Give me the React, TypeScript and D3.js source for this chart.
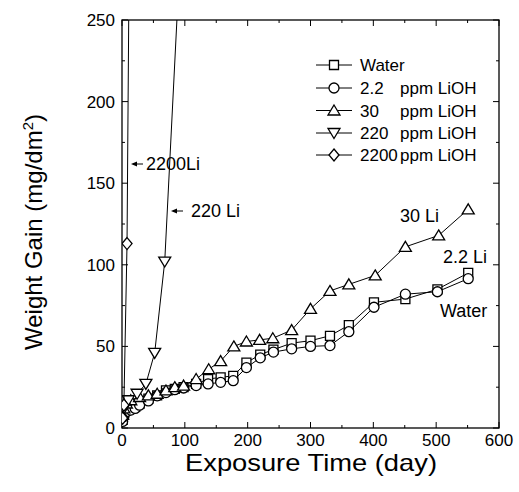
import React from 'react';
import * as d3 from 'd3';

// ---- data ----
const waterDays = [1, 3, 7, 14, 21, 28, 42, 56, 70, 84, 98, 118, 137, 157, 177, 198, 220, 241, 270, 300, 331, 361, 401, 451, 502, 551];
const waterGain = [5, 8, 11, 12, 13, 15, 18, 20, 23, 24, 25, 27, 30, 31, 32, 40, 45, 48, 52, 53.5, 56.5, 63, 77, 79, 85, 95];

const li22Days = [1, 3, 7, 14, 21, 28, 42, 56, 70, 84, 98, 118, 137, 157, 177, 198, 220, 241, 270, 300, 331, 361, 401, 451, 502, 551];
const li22Gain = [4, 7, 10, 11, 12, 14, 16.6, 19.7, 21.7, 23.5, 24.5, 26, 27, 28, 29, 37, 43, 46.5, 48.5, 50, 50.5, 59, 74, 82, 83.5, 91.5];

const li30Days = [1, 3, 7, 14, 28, 42, 56, 70, 84, 98, 118, 138, 157, 178, 198, 219, 240, 270, 300, 331, 361, 403, 451, 504, 551];
const li30Gain = [8, 12, 15, 17, 19, 20, 21, 23, 25, 26, 30, 36, 41, 50, 53, 54, 55, 60, 73, 84, 88, 93.5, 111, 118, 134];

const li220Days = [3, 10, 24, 38, 52, 68, 90];
const li220Gain = [12, 17, 21, 27, 46, 102, 270];

const li2200Days = [1, 3, 8, 14];
const li2200Gain = [6, 14, 113, 420];

const xTicks = [0, 100, 200, 300, 400, 500, 600];
const yTicks = [0, 50, 100, 150, 200, 250];

const legendNames = ['Water', '2.2', '30', '220', '2200'];
const legendUnits = ['', 'ppm LiOH', 'ppm LiOH', 'ppm LiOH', 'ppm LiOH'];

type Shape = 'square' | 'circle' | 'tri' | 'tridown' | 'diamond';

function markerPath(shape: Shape, cx: number, cy: number): string {
  switch (shape) {
    case 'square':
      return `M${cx - 4.5},${cy - 4.5}h9v9h-9Z`;
    case 'circle':
      return `M${cx + 5},${cy}A5,5 0 1,1 ${cx - 5},${cy}A5,5 0 1,1 ${cx + 5},${cy}Z`;
    case 'tri':
      return `M${cx},${cy - 5.5}L${cx + 6},${cy + 4.5}L${cx - 6},${cy + 4.5}Z`;
    case 'tridown':
      return `M${cx},${cy + 5.5}L${cx + 6},${cy - 4.5}L${cx - 6},${cy - 4.5}Z`;
    case 'diamond':
      return `M${cx},${cy - 6}L${cx + 5},${cy}L${cx},${cy + 6}L${cx - 5},${cy}Z`;
  }
}

export default function App() {
  const W = 519, H = 492;
  const L = 122, R = 499, T = 20, B = 428;
  const x = d3.scaleLinear().domain([0, 600]).range([L, R]);
  const y = d3.scaleLinear().domain([0, 250]).range([B, T]);

  const series: { days: number[]; gain: number[]; shape: Shape }[] = [
    { days: waterDays, gain: waterGain, shape: 'square' },
    { days: li22Days, gain: li22Gain, shape: 'circle' },
    { days: li30Days, gain: li30Gain, shape: 'tri' },
    { days: li220Days, gain: li220Gain, shape: 'tridown' },
    { days: li2200Days, gain: li2200Gain, shape: 'diamond' },
  ];
  const shapes: Shape[] = ['square', 'circle', 'tri', 'tridown', 'diamond'];

  const line = d3.line<[number, number]>().x(d => x(d[0])).y(d => y(d[1]));

  const font = 'Liberation Sans, Arial, Helvetica, sans-serif';

  const xMinor = d3.range(50, 600, 100);
  const yMinor = d3.range(25, 250, 50);

  const legendRows = [65, 88, 110.5, 133, 155];

  return (
    <svg width={W} height={H} style={{ position: 'absolute', left: 0, top: 0, background: '#fff' }} fontFamily={font}>
      <defs>
        <clipPath id="plotclip">
          <rect x={L} y={T} width={R - L} height={B - T} />
        </clipPath>
      </defs>
      <rect width={W} height={H} fill="#fff" />

      {/* frame */}
      <rect x={L} y={T} width={R - L} height={B - T} fill="none" stroke="#000" strokeWidth={1.3} />

      {/* ticks */}
      {xTicks.map(t => (
        <g key={'xt' + t}>
          <line x1={x(t)} x2={x(t)} y1={B} y2={B - 6} stroke="#000" />
          <line x1={x(t)} x2={x(t)} y1={T} y2={T + 6} stroke="#000" />
          <text x={x(t)} y={446} fontSize={17} textAnchor="middle">{t}</text>
        </g>
      ))}
      {xMinor.map(t => (
        <g key={'xm' + t}>
          <line x1={x(t)} x2={x(t)} y1={B} y2={B - 3} stroke="#000" />
          <line x1={x(t)} x2={x(t)} y1={T} y2={T + 3} stroke="#000" />
        </g>
      ))}
      {yTicks.map(t => (
        <g key={'yt' + t}>
          <line x1={L} x2={L + 6} y1={y(t)} y2={y(t)} stroke="#000" />
          <line x1={R} x2={R - 6} y1={y(t)} y2={y(t)} stroke="#000" />
          <text x={115} y={y(t) + 6} fontSize={17} textAnchor="end">{t}</text>
        </g>
      ))}
      {yMinor.map(t => (
        <g key={'ym' + t}>
          <line x1={L} x2={L + 3} y1={y(t)} y2={y(t)} stroke="#000" />
          <line x1={R} x2={R - 3} y1={y(t)} y2={y(t)} stroke="#000" />
        </g>
      ))}

      {/* axis titles */}
      <text x={311} y={471} fontSize={24} textAnchor="middle" textLength={252} lengthAdjust="spacingAndGlyphs">Exposure Time (day)</text>
      <text transform="translate(42,232) rotate(-90)" fontSize={24} textAnchor="middle">
        Weight Gain (mg/dm<tspan dy={-9} fontSize={15}>2</tspan><tspan dy={9}>)</tspan>
      </text>

      {/* data */}
      <g clipPath="url(#plotclip)">
        {series.map((s, i) => {
          const pts: [number, number][] = s.days.map((d, j) => [d, s.gain[j]]);
          return (
            <g key={'s' + i}>
              <path d={line(pts) || ''} fill="none" stroke="#000" strokeWidth={1} />
              {pts.filter(p => p[1] <= 250).map((p, j) => (
                <path key={j} d={markerPath(s.shape, x(p[0]), y(p[1]))} fill="#fff" stroke="#000" strokeWidth={1.3} />
              ))}
            </g>
          );
        })}
      </g>

      {/* legend */}
      {legendNames.map((n, i) => (
        <g key={'lg' + i}>
          <line x1={316} x2={352} y1={legendRows[i]} y2={legendRows[i]} stroke="#000" />
          <path d={markerPath(shapes[i], 334, legendRows[i])} fill="#fff" stroke="#000" strokeWidth={1.3} />
          <text x={360} y={legendRows[i] + 6} fontSize={17}>{n}</text>
          {legendUnits[i] && (
            <text x={400} y={legendRows[i] + 6} fontSize={17}>{legendUnits[i]}</text>
          )}
        </g>
      ))}

      {/* annotations */}
      <line x1={143} x2={133} y1={164} y2={164} stroke="#000" strokeWidth={1} />
      <path d="M131,164 L137,161.5 L137,166.5 Z" fill="#000" />
      <text x={146} y={170} fontSize={18}>2200Li</text>

      <line x1={183} x2={173} y1={211} y2={211} stroke="#000" strokeWidth={1} />
      <path d="M171,211 L177,208.5 L177,213.5 Z" fill="#000" />
      <text x={191} y={217} fontSize={18}>220 Li</text>

      <text x={400} y={222} fontSize={18}>30 Li</text>
      <text x={443} y={263} fontSize={18}>2.2 Li</text>
      <text x={440} y={317} fontSize={18}>Water</text>
    </svg>
  );
}
